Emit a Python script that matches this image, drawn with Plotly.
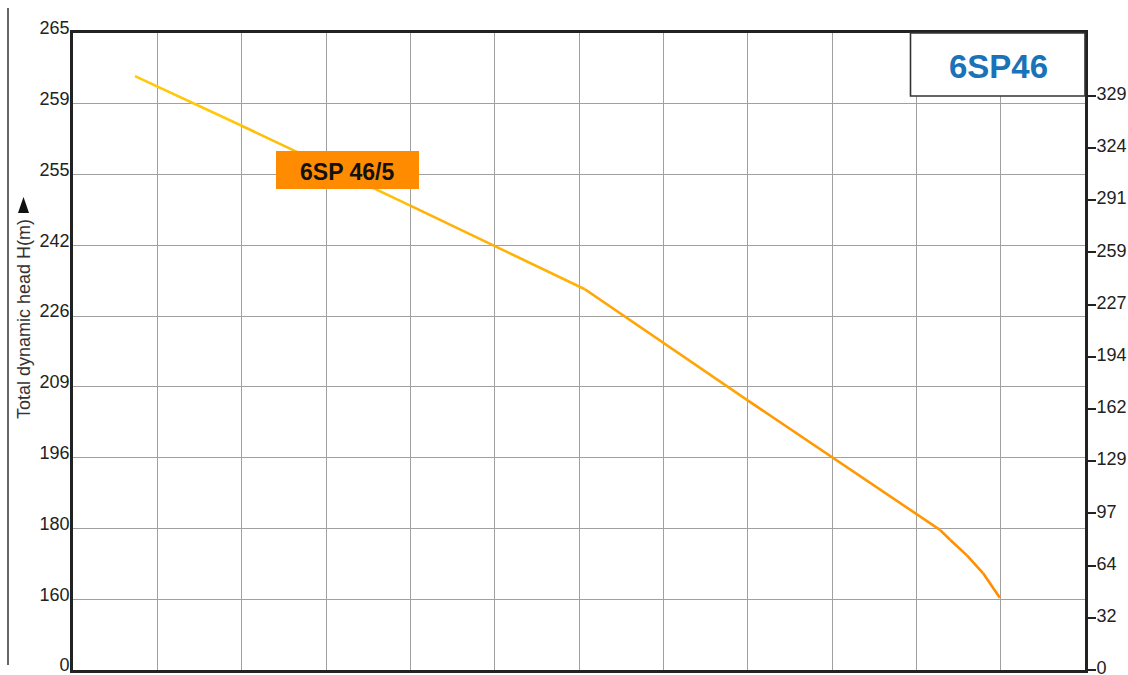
import plotly.graph_objects as go

# ---- data ----
left_tick_labels = ["0", "160", "180", "196", "209", "226", "242", "255", "259", "265"]
right_tick_labels = ["0", "32", "64", "97", "129", "162", "194", "227", "259", "291", "324", "329"]
curve_x = [0.735, 2.0, 4.0, 6.07, 8.0, 10.28, 10.40, 10.60, 10.79, 10.99]
curve_y = [8.39, 7.69, 6.56, 5.38, 3.81, 1.98, 1.84, 1.62, 1.37, 1.02]
curve_name = "6SP 46/5"
chart_title = "6SP46"
y_title = "Total dynamic head H(m)"

W, H = 1128, 675
L, R, T, B = 73, 43, 33, 5
PW, PH = W - L - R, H - T - B


def px_x(x):
    return (x - L) / PW


def px_y(y):
    return (H - B - y) / PH


def grad(t):
    c0 = (255, 204, 10)
    c1 = (255, 140, 0)
    return "rgb(%d,%d,%d)" % tuple(round(a + (b - a) * t) for a, b in zip(c0, c1))


fig = go.Figure()
x0, x1 = curve_x[0], curve_x[-1]
for i in range(len(curve_x) - 1):
    t = ((curve_x[i] + curve_x[i + 1]) / 2 - x0) / (x1 - x0)
    fig.add_trace(go.Scatter(
        x=curve_x[i:i + 2], y=curve_y[i:i + 2], mode="lines",
        line=dict(color=grad(t), width=2.6), showlegend=False, hoverinfo="skip"))

# dummy trace on right axis
fig.add_trace(go.Scatter(x=[None], y=[None], yaxis="y2", showlegend=False))

tickfont = dict(family="Liberation Sans, Arial, sans-serif", size=18, color="#222")

fig.update_layout(
    width=W, height=H, autosize=False,
    margin=dict(l=L, r=R, t=T, b=B, autoexpand=False),
    paper_bgcolor="white", plot_bgcolor="white",
    xaxis=dict(range=[0, 12], dtick=1, tick0=0, showticklabels=False,
               showgrid=True, gridcolor="#a0a0a0", gridwidth=1.2,
               showline=True, linecolor="#222", linewidth=2.6, mirror=True,
               zeroline=False, ticks="", automargin=False),
    yaxis=dict(range=[0, 9], tickmode="array", tickvals=list(range(len(left_tick_labels))),
               ticktext=left_tick_labels, tickfont=tickfont,
               showgrid=True, gridcolor="#a0a0a0", gridwidth=1.2,
               showline=True, linecolor="#222", linewidth=2.6, mirror=True,
               zeroline=False, ticks="", ticklabelshift=-5, ticklabelstandoff=-3,
               automargin=False, ticklabeloverflow="allow"),
    yaxis2=dict(range=[0, 12.2], overlaying="y", side="right", tickmode="array",
                tickvals=list(range(len(right_tick_labels))), ticktext=right_tick_labels,
                tickfont=tickfont, showgrid=False, zeroline=False, showline=False,
                ticks="outside", ticklen=10, tickwidth=1.5, tickcolor="#222",
                ticklabelshift=-2, ticklabelstandoff=-3, automargin=False,
                ticklabeloverflow="allow"),
    shapes=[
        # outer left rule
        dict(type="line", xref="paper", yref="paper", x0=px_x(8), x1=px_x(8),
             y0=px_y(8), y1=px_y(665), line=dict(color="#333", width=1.5)),
        # title box
        dict(type="rect", xref="paper", yref="paper", x0=px_x(910.5), x1=px_x(1085),
             y0=px_y(96), y1=px_y(33), fillcolor="white", line=dict(color="#333", width=1.6),
             layer="above"),
        # curve label box
        dict(type="rect", xref="paper", yref="paper", x0=px_x(276), x1=px_x(419),
             y0=px_y(189), y1=px_y(151), fillcolor="#FF8C00", line=dict(width=0),
             layer="above"),
        # arrow next to the axis title
        dict(type="path", xref="paper", yref="paper",
             path="M %f %f L %f %f L %f %f Z" % (px_x(18), px_y(213), px_x(29), px_y(213),
                                                 px_x(23.5), px_y(197)),
             fillcolor="#111", line=dict(width=0)),
    ],
    annotations=[
        dict(text=chart_title, xref="paper", yref="paper", x=px_x(998), y=px_y(66),
             xanchor="center", yanchor="middle", showarrow=False,
             font=dict(family="Liberation Sans, Arial, sans-serif", size=33, color="#1a72b9",
                       weight="bold")),
        dict(text=curve_name, xref="paper", yref="paper", x=px_x(347), y=px_y(172),
             xanchor="center", yanchor="middle", showarrow=False,
             font=dict(family="Liberation Sans, Arial, sans-serif", size=23, color="#111",
                       weight="bold")),
        dict(text=y_title, xref="paper", yref="paper", x=px_x(24), y=px_y(319),
             xanchor="center", yanchor="middle", showarrow=False, textangle=-90,
             font=dict(family="Liberation Sans, Arial, sans-serif", size=18, color="#333")),
    ],
)

fig.write_html("out.html", config={"displayModeBar": False},
               post_script="document.body.style.margin='0';document.body.style.overflow='hidden';")
